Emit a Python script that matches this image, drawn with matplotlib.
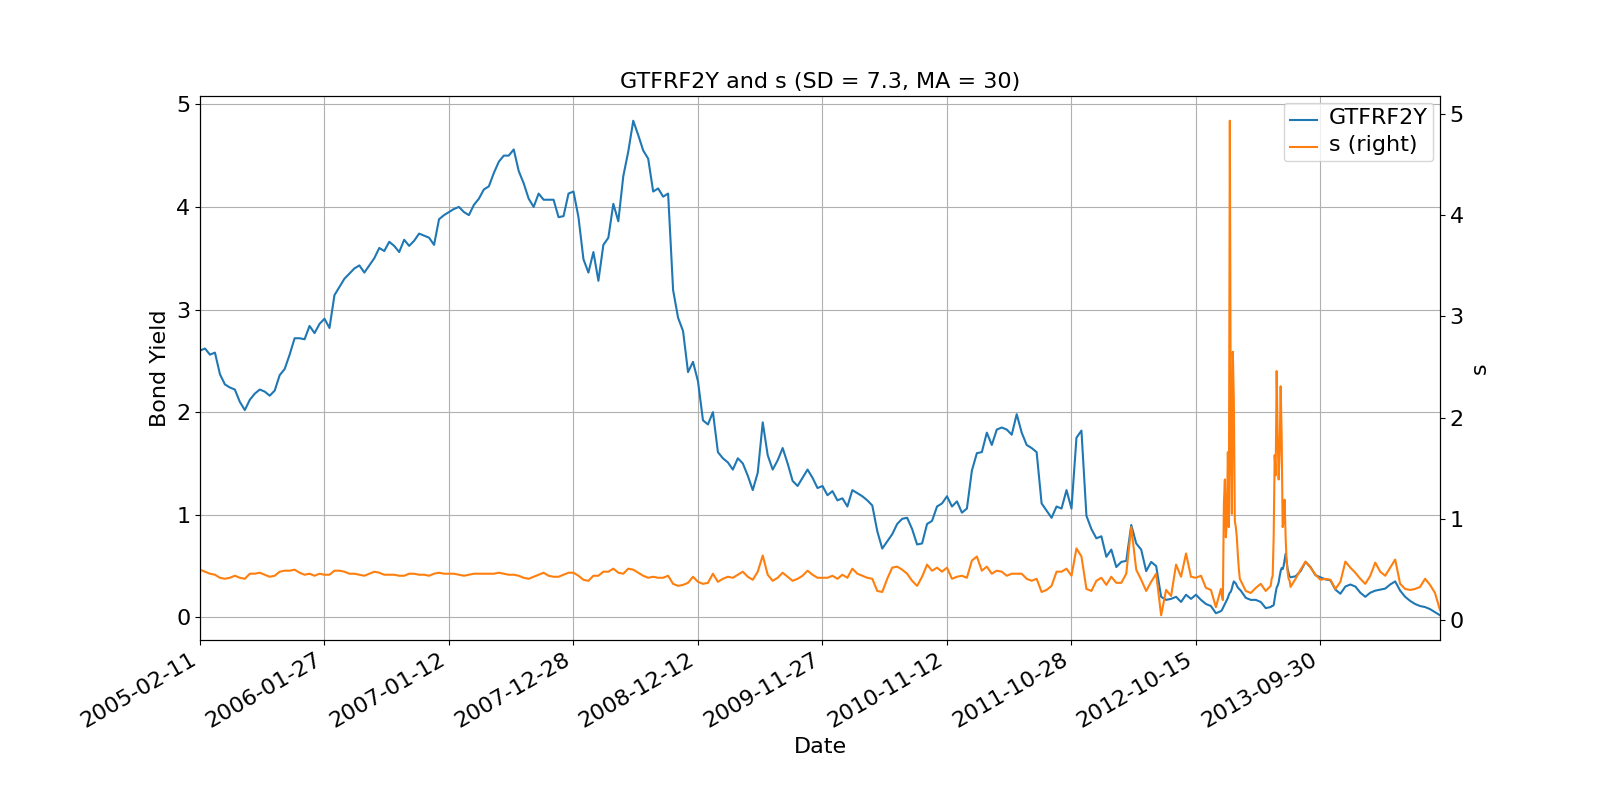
import numpy as np
import matplotlib
matplotlib.use('Agg')
import matplotlib.pyplot as plt

# trading-day number since 2005-02-11 (denser where s spikes)
day = np.r_[np.arange(0, 2050, 10), np.arange(2050, 2090, 2), np.arange(2090, 2150, 10),
            np.arange(2150, 2190, 2), np.arange(2190, 2491, 10)]

tick_days = [0, 250, 500, 750, 1000, 1250, 1500, 1750, 2000, 2250]
tick_labels = ['2005-02-11', '2006-01-27', '2007-01-12', '2007-12-28', '2008-12-12',
               '2009-11-27', '2010-11-12', '2011-10-28', '2012-10-15', '2013-09-30']

gtfrf2y = [
    # 0 - 490
    2.60, 2.62, 2.56, 2.58, 2.37, 2.27, 2.24, 2.22, 2.10, 2.02,
    2.12, 2.18, 2.22, 2.20, 2.16, 2.21, 2.36, 2.42, 2.56, 2.72,
    2.72, 2.71, 2.84, 2.77, 2.86, 2.91, 2.82, 3.14, 3.22, 3.30,
    3.35, 3.40, 3.43, 3.36, 3.43, 3.50, 3.60, 3.57, 3.66, 3.62,
    3.56, 3.68, 3.62, 3.67, 3.74, 3.72, 3.70, 3.63, 3.88, 3.92,
    # 500 - 990
    3.95, 3.98, 4.00, 3.95, 3.92, 4.02, 4.08, 4.17, 4.20, 4.33,
    4.44, 4.50, 4.50, 4.56, 4.35, 4.23, 4.08, 4.00, 4.13, 4.07,
    4.07, 4.07, 3.90, 3.91, 4.13, 4.15, 3.90, 3.49, 3.36, 3.56,
    3.28, 3.63, 3.70, 4.03, 3.86, 4.30, 4.54, 4.84, 4.70, 4.55,
    4.47, 4.15, 4.18, 4.10, 4.13, 3.19, 2.92, 2.79, 2.39, 2.49,
    # 1000 - 1490
    2.30, 1.92, 1.88, 2.00, 1.61, 1.55, 1.51, 1.44, 1.55, 1.50,
    1.38, 1.24, 1.41, 1.90, 1.58, 1.44, 1.53, 1.65, 1.50, 1.33,
    1.28, 1.36, 1.44, 1.36, 1.26, 1.28, 1.19, 1.23, 1.14, 1.16,
    1.08, 1.24, 1.21, 1.18, 1.14, 1.09, 0.84, 0.67, 0.74, 0.81,
    0.91, 0.96, 0.97, 0.86, 0.71, 0.72, 0.91, 0.94, 1.08, 1.11,
    # 1500 - 1990
    1.18, 1.08, 1.13, 1.02, 1.06, 1.43, 1.60, 1.61, 1.80, 1.68,
    1.83, 1.85, 1.83, 1.78, 1.98, 1.80, 1.68, 1.65, 1.61, 1.11,
    1.04, 0.97, 1.08, 1.06, 1.24, 1.06, 1.75, 1.82, 0.99, 0.86,
    0.77, 0.79, 0.59, 0.66, 0.49, 0.54, 0.55, 0.90, 0.72, 0.66,
    0.45, 0.54, 0.50, 0.20, 0.17, 0.18, 0.20, 0.15, 0.22, 0.18,
    # 2000 - 2040
    0.22, 0.17, 0.13, 0.11, 0.04,
    # 2050 - 2088
    0.06, 0.07, 0.09, 0.11, 0.13, 0.15, 0.17, 0.19, 0.22, 0.24,
    0.25, 0.28, 0.32, 0.35, 0.34, 0.33, 0.31, 0.29, 0.28, 0.27,
    # 2090 - 2140
    0.26, 0.19, 0.17, 0.17, 0.15, 0.09,
    # 2150 - 2188
    0.10, 0.11, 0.11, 0.12, 0.18, 0.24, 0.29, 0.31, 0.34, 0.40,
    0.45, 0.48, 0.47, 0.50, 0.56, 0.62, 0.55, 0.47, 0.43, 0.40,
    # 2190 - 2490
    0.39, 0.40, 0.45, 0.54, 0.49, 0.41, 0.39, 0.37, 0.36, 0.27,
    0.23, 0.30, 0.32, 0.30, 0.24, 0.20, 0.24, 0.26, 0.27, 0.28,
    0.32, 0.35, 0.26, 0.20, 0.16, 0.13, 0.11, 0.10, 0.08, 0.05,
    0.02,
]

s = [
    # 0 - 490
    0.50, 0.48, 0.46, 0.45, 0.42, 0.41, 0.42, 0.44, 0.42, 0.41,
    0.46, 0.46, 0.47, 0.45, 0.43, 0.44, 0.48, 0.49, 0.49, 0.50,
    0.47, 0.45, 0.46, 0.44, 0.46, 0.45, 0.45, 0.49, 0.49, 0.48,
    0.46, 0.46, 0.45, 0.44, 0.46, 0.48, 0.47, 0.45, 0.45, 0.45,
    0.44, 0.44, 0.46, 0.46, 0.45, 0.45, 0.44, 0.46, 0.47, 0.46,
    # 500 - 990
    0.46, 0.46, 0.45, 0.44, 0.45, 0.46, 0.46, 0.46, 0.46, 0.46,
    0.47, 0.46, 0.45, 0.45, 0.44, 0.42, 0.41, 0.43, 0.45, 0.47,
    0.44, 0.43, 0.43, 0.45, 0.47, 0.47, 0.44, 0.40, 0.39, 0.44,
    0.44, 0.48, 0.48, 0.51, 0.47, 0.46, 0.51, 0.50, 0.47, 0.44,
    0.42, 0.43, 0.42, 0.42, 0.44, 0.36, 0.34, 0.35, 0.37, 0.43,
    # 1000 - 1490
    0.38, 0.36, 0.37, 0.46, 0.38, 0.41, 0.43, 0.42, 0.45, 0.48,
    0.43, 0.40, 0.48, 0.64, 0.45, 0.39, 0.42, 0.47, 0.43, 0.39,
    0.41, 0.44, 0.49, 0.45, 0.42, 0.42, 0.42, 0.44, 0.41, 0.45,
    0.42, 0.51, 0.46, 0.44, 0.42, 0.41, 0.29, 0.28, 0.41, 0.52,
    0.53, 0.50, 0.46, 0.39, 0.34, 0.43, 0.55, 0.49, 0.52, 0.48,
    # 1500 - 1990
    0.52, 0.41, 0.43, 0.44, 0.42, 0.59, 0.63, 0.49, 0.53, 0.46,
    0.49, 0.48, 0.44, 0.46, 0.46, 0.46, 0.41, 0.39, 0.41, 0.28,
    0.30, 0.34, 0.48, 0.48, 0.51, 0.44, 0.71, 0.63, 0.31, 0.29,
    0.39, 0.42, 0.35, 0.43, 0.37, 0.37, 0.46, 0.92, 0.50, 0.40,
    0.29, 0.38, 0.46, 0.05, 0.30, 0.24, 0.55, 0.43, 0.66, 0.43,
    # 2000 - 2040
    0.42, 0.44, 0.32, 0.30, 0.13,
    # 2050 - 2088
    0.31, 0.24, 0.20, 1.15, 1.39, 0.82, 0.98, 1.66, 0.92, 4.93,
    1.60, 1.05, 2.65, 2.17, 0.98, 0.92, 0.82, 0.65, 0.51, 0.41,
    # 2090 - 2140
    0.39, 0.29, 0.27, 0.32, 0.36, 0.29,
    # 2150 - 2188
    0.34, 0.41, 0.44, 0.82, 1.63, 1.43, 2.46, 1.83, 1.39, 1.66,
    2.31, 1.83, 0.92, 0.98, 1.19, 0.82, 0.58, 0.48, 0.41, 0.39,
    # 2190 - 2490
    0.33, 0.41, 0.50, 0.58, 0.52, 0.45, 0.40, 0.41, 0.40, 0.31,
    0.38, 0.58, 0.52, 0.47, 0.41, 0.36, 0.44, 0.57, 0.48, 0.44,
    0.52, 0.60, 0.36, 0.31, 0.30, 0.31, 0.33, 0.41, 0.35, 0.27,
    0.10,
]

fs = 16

fig, ax = plt.subplots(figsize=(16, 8), dpi=100)
line1, = ax.plot(day, gtfrf2y, color='#1f77b4', label='GTFRF2Y')
ax2 = ax.twinx()
line2, = ax2.plot(day, s, color='#ff7f0e', label='s (right)')

ax.set_xlim(day[0], day[-1])
ax.set_xticks(tick_days)
ax.set_xticklabels(tick_labels)
ax.tick_params(labelsize=fs)
ax2.tick_params(labelsize=fs)
ax.grid(True)

ax.set_xlabel('Date', fontsize=fs)
ax.set_ylabel('Bond Yield', fontsize=fs)
ax2.set_ylabel('s', fontsize=fs)
ax.set_title('GTFRF2Y and s (SD = 7.3, MA = 30)', fontsize=fs)

# legend laid out at the default size, text enlarged afterwards
leg = ax2.legend([line1, line2], ['GTFRF2Y', 's (right)'], loc='upper right')
for t in leg.get_texts():
    t.set_fontsize(fs)

fig.autofmt_xdate()

plt.savefig('out.png')
